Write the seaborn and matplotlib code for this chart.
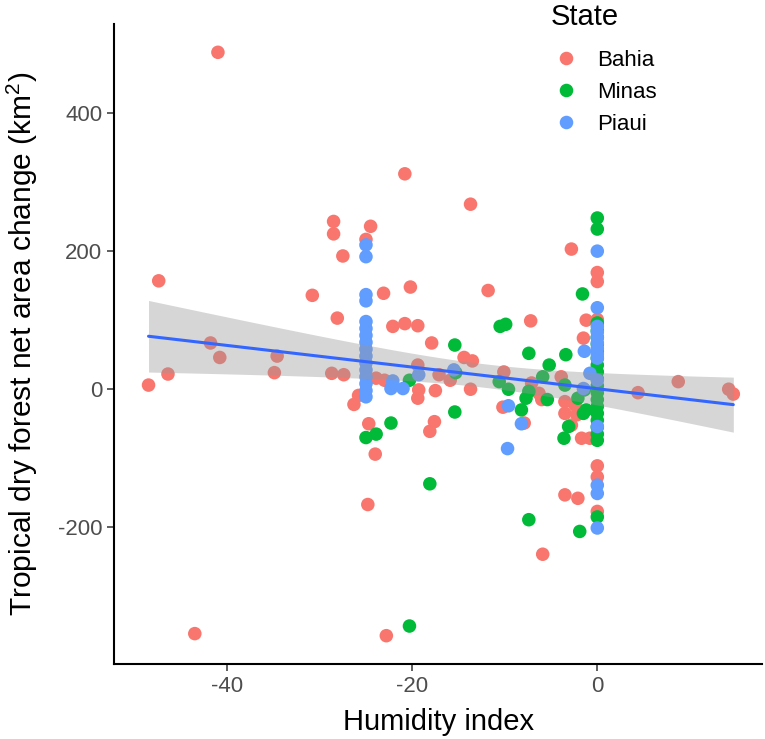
import numpy as np
import pandas as pd
import matplotlib
matplotlib.use('Agg')
import matplotlib.pyplot as plt
import seaborn as sns

# Bahia
bahia_x = [-48.5, -47.4, -46.4, -43.5, -41.8, -41.0, -40.8, -34.9, -34.6, -30.8,
           -28.7, -28.5, -28.5, -28.1, -27.5, -27.4, -26.3, -25.8, -25.0, -24.5,
           -24.7, -24.0, -24.8, -23.9, -23.0, -23.1, -22.8, -22.1, -20.8, -20.8,
           -20.2, -19.4, -19.4, -19.3, -19.4, -17.9, -17.6, -18.1, -17.1, -17.5,
           -15.9, -14.4, -13.5, -13.7, -13.7, -11.8, -10.1, -10.2, -7.2, -7.1,
           -7.9, -6.3, -6.0, -5.9, -3.9, -3.5, -2.8, -3.5, -2.1, -2.8,
           -2.4, -3.5, -2.2, -1.7, -0.8, -1.2, -1.5, 0.0, 0.0, 0.0,
           0.0, 0.0, 0.0, 4.4, 8.75, 14.2, 14.7]
bahia_y = [6, 157, 22, -354, 67, 488, 46, 24, 48, 136,
           23, 243, 225, 103, 193, 21, -22, -9, 217, 236,
           -50, -94, -167, 16, 13, 139, -357, 91, 95, 312,
           148, 92, 35, -1, -13, 67, -47, -61, 21, -2,
           13, 46, 41, 268, 0, 143, 25, -26, 99, 9,
           -49, -6, -15, -239, 18, -35, -52, -153, -158, 203,
           -23, -18, -37, -71, -71, 100, 74, 169, 156, 101,
           -111, -127, -177, -5, 11, 0, -7]

# Minas
minas_x = [-25.0, -23.9, -22.3, -20.3, -20.3, -18.1, -15.4, -15.3, -15.4, -10.5,
           -9.9, -10.6, -9.6, -8.2, -7.4, -7.4, -7.7, -7.4, -5.9, -5.2,
           -5.4, -3.4, -3.5, -3.6, -3.1, -2.1, -1.6, -1.5, -1.2, -1.4,
           -1.9, 0.0, 0.0, 0.0, 0.0, 0.0, 0.0, 0.0, 0.0, 0.0,
           0.0, 0.0, 0.0, 0.0, 0.0, 0.0, 0.0, 0.0, 0.0, 0.0,
           0.0, 0.0]
minas_y = [-70, -65, -49, 13, -343, -137, 64, 24, -33, 91,
           94, 11, 0, -30, 52, -3, -13, -189, 18, 35,
           -15, 50, 6, -71, -54, -13, 138, -35, -30, -1,
           -206, 248, 232, 96, 85, 75, 65, 55, 45, 35,
           25, 15, 5, -5, -15, -25, -35, -45, -55, -65,
           -74, -185]

# Piaui
piaui_x = [-25.0, -25.0, -25.0, -25.0, -25.0, -25.0, -25.0, -25.0, -25.0, -25.0,
           -25.0, -25.0, -25.0, -25.0, -25.0, -25.0, -22.1, -22.3, -21.0, -19.3,
           -15.5, -9.6, -8.2, -9.7, -1.4, -0.8, -1.5, 0.0, 0.0, 0.0,
           0.0, 0.0, 0.0, 0.0, 0.0, 0.0, 0.0, 0.0, 0.0, 0.0,
           0.0]
piaui_y = [209, 192, 137, 128, 98, 88, 78, 68, 58, 48,
           38, 28, 18, 8, -2, -11, 12, 1, 1, 21,
           28, -24, -50, -86, 55, 23, 1, 200, 118, 91,
           83, 75, 67, 59, 51, 45, 13, -54, -139, -151,
           -201]

states = ['Bahia', 'Minas', 'Piaui']
cores = ['#F8766D', '#00BA38', '#619CFF']

df = pd.concat([
    pd.DataFrame({'hum': bahia_x, 'area': bahia_y, 'State': 'Bahia'}),
    pd.DataFrame({'hum': minas_x, 'area': minas_y, 'State': 'Minas'}),
    pd.DataFrame({'hum': piaui_x, 'area': piaui_y, 'State': 'Piaui'}),
], ignore_index=True)

sns.set_theme(style='ticks')
plt.rcParams['font.family'] = ['Liberation Sans', 'DejaVu Sans']
plt.rcParams['mathtext.default'] = 'regular'
plt.rcParams['axes.unicode_minus'] = False

fig = plt.figure(figsize=(7.65, 7.39), dpi=100)
ax = fig.add_axes([114.3 / 765, 1 - 664 / 739, (762 - 114.3) / 765, (664 - 24) / 739])

sns.scatterplot(data=df, x='hum', y='area', hue='State', hue_order=states,
                palette=cores, s=95, edgecolor='none', linewidth=0, ax=ax,
                legend=True)

# ajuste lm com IC 95% analitico (como geom_smooth)
x = df['hum'].to_numpy(float)
y = df['area'].to_numpy(float)
n = len(x)
b1, b0 = np.polyfit(x, y, 1)
res = y - (b0 + b1 * x)
s = np.sqrt(np.sum(res ** 2) / (n - 2))
xg = np.linspace(x.min(), x.max(), 80)
yg = b0 + b1 * xg
se = s * np.sqrt(1 / n + (xg - x.mean()) ** 2 / np.sum((x - x.mean()) ** 2))
t = 1.974
ax.fill_between(xg, yg - t * se, yg + t * se, color='#999999', alpha=0.4, lw=0, zorder=3)
sns.lineplot(x=xg, y=yg, color='#3366FF', lw=2.2, ax=ax, zorder=4, legend=False)

ax.set_xlim(-52.2, 17.8)
ax.set_ylim(-398, 529)
ax.set_xticks([-40, -20, 0])
ax.set_yticks([-200, 0, 200, 400])
ax.tick_params(labelsize=16, labelcolor='#4D4D4D', color='#333333', length=5, width=1.1)
for lado in ['left', 'bottom']:
    ax.spines[lado].set_linewidth(1.5)
    ax.spines[lado].set_color('black')
sns.despine(ax=ax)

ax.set_xlabel('Humidity index', fontsize=21, labelpad=8, color='black')
ax.set_ylabel('Tropical dry forest net area change (km$^{2}$)', fontsize=21.5, color='black')
ax.yaxis.set_label_coords(-0.115, 0.5)

handles, labels = ax.get_legend_handles_labels()
leg = ax.legend(handles[:3], labels[:3], frameon=False,
                loc='upper left', bbox_to_anchor=(535 / 765, 1 - 30 / 739),
                bbox_transform=fig.transFigure, fontsize=16,
                handlelength=1.0, handletextpad=0.9, labelspacing=0.5)
for txt in leg.get_texts():
    txt.set_color('black')
fig.text(551 / 765, 1 - 25 / 739, 'State', fontsize=21, va='baseline', ha='left', color='black')

fig.savefig('out.png', dpi=100)
